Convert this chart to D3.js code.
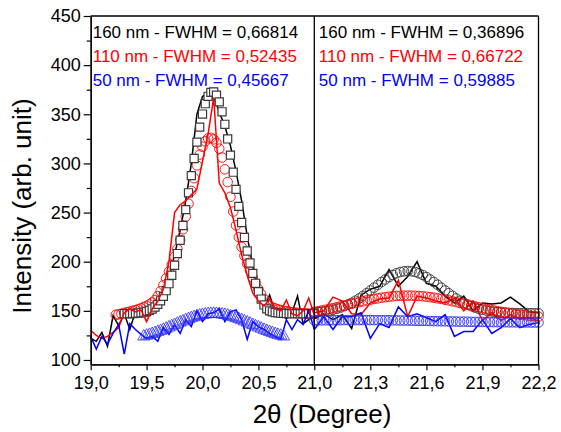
<!DOCTYPE html>
<html>
<head>
<meta charset="utf-8">
<script src="https://cdn.jsdelivr.net/npm/d3@7"></script>
<style>
  html, body { margin: 0; padding: 0; background: #fff; }
  svg { display: block; font-family: "Liberation Sans", Arial, Helvetica, sans-serif; }
</style>
</head>
<body>
<svg id="chart" width="561" height="432"></svg>
<script>
// ---------------- measured intensities (step 0.05 deg) ----------------
const dataStep = 0.05;
const angleLeft  = d3.range(41).map(i => +(19 + i * dataStep).toFixed(2));   // 19.00 .. 21.00
const angleRight = d3.range(25).map(i => +(21 + i * dataStep).toFixed(2));   // 21.00 .. 22.20

const data160Left = [122,119,128,114,145,135,147,131,149,147,
                     150,152,156,168,183,207,232,262,300,350,
                     368,372,368,352,338,318,292,262,226,195,
                     172,154,166,149,147,142,148,165,137,141,146];
const data110Left = [130,125,122,124,128,133,148,152,149,151,
                     139,152,160,172,200,250,258,262,268,274,
                     302,330,367,280,270,255,232,207,186,168,
                     160,155,162,152,150,161,147,145,150,163,146];
const data50Left  = [124,111,124,116,127,136,106,137,131,126,
                     122,124,119,133,126,136,127,141,134,150,
                     139,147,148,152,139,149,151,141,121,139,
                     134,131,127,124,121,141,131,141,136,150,131];

const data160Right = [142,147,141,146,132,166,172,175,192,175,
                      185,200,178,175,165,158,165,150,158,157,
                      158,164,157,149,148];
const data110Right = [148,150,164,160,147,146,158,162,163,181,
                      144,165,163,160,158,163,150,160,140,148,
                      140,146,142,143,140];
const data50Right  = [131,144,131,144,144,148,122,137,133,154,
                      144,147,143,139,146,124,129,129,141,127,
                      133,142,133,136,138];

// ---------------- fitted curves ----------------
const fitStepLeft = 0.025;
const fit160LeftStart = 19.30;
const fit160Left = [147.1,147.1,147.2,147.3,147.4,147.7,148.0,148.6,149.3,150.4,
                    151.9,153.9,156.6,160.2,164.7,170.5,177.6,186.2,196.4,208.3,
                    221.8,236.8,253.0,270.1,287.6,305.0,321.7,336.9,350.2,360.8,
                    368.3,372.3,372.7,369.4,362.6,352.5,339.8,324.9,308.4,291.1,
                    273.6,256.3,239.9,224.7,210.9,198.7,188.1,178.0,169.5,162.0,
                    156.0,152.0,150.0,149.0,148.3,147.9,147.6,147.4,147.3,147.2,
                    147.1,147.1,147.1,147.1,147.1,147.1,147.1,147.1,147.1];
const fit110LeftStart = 19.225;
const fit110Left = [146.0,146.5,147.0,147.8,148.5,149.2,150.0,150.8,151.6,152.6,
                    153.8,155.0,156.5,158.5,161.0,165.0,170.0,176.0,183.0,190.0,
                    197.0,205.0,213.0,222.0,233.0,246.0,259.0,272.0,285.0,298.0,
                    309.0,317.0,322.5,325.5,326.0,324.5,321.0,315.0,306.0,294.0,
                    281.0,266.0,251.0,237.0,225.0,215.0,206.0,198.0,191.0,184.0,
                    178.0,172.0,167.0,162.0,158.0,155.0,153.5,152.5,151.5,150.8,
                    150.2,149.6,149.1,148.6,148.2,147.9,147.7,147.5,147.3,147.2,
                    147.1,147.0];
const fit50LeftStart = 19.475;
const fit50Left = [123.9,124.7,125.5,126.4,127.4,128.5,129.5,130.7,131.9,133.1,
                   134.3,135.6,136.9,138.1,139.3,140.5,141.6,142.6,143.6,144.5,
                   145.2,145.8,146.3,146.7,146.9,147.0,146.9,146.7,146.3,145.8,
                   145.2,144.5,143.6,142.6,141.6,140.5,139.3,138.1,136.9,135.6,
                   134.3,133.1,131.9,130.7,129.5,128.5,127.4,126.4,125.5,124.7,123.9];

const fitStepRight = 0.02;
const fitRightStart = 21.00;
const fit160Right = [148.4,148.7,149.1,149.7,150.3,151.1,152.1,153.3,154.7,156.4,
                     158.2,160.3,162.6,165.2,167.9,170.7,173.6,176.5,179.3,181.9,
                     184.4,186.5,188.2,189.5,190.2,190.5,190.2,189.5,188.2,186.5,
                     184.4,181.9,179.3,176.5,173.6,170.7,167.9,165.2,162.6,160.3,
                     158.2,156.4,154.7,153.3,152.1,151.1,150.3,149.7,149.1,148.7,
                     148.4,148.2,148.0,147.8,147.7,147.7,147.6,147.6,147.6,147.5,147.5];
const fit110Right = [148.9,149.6,150.4,151.1,151.9,152.8,153.6,154.5,155.4,156.3,
                     157.1,158.0,158.9,159.7,160.6,161.3,162.1,162.7,163.4,163.9,
                     164.4,164.8,165.1,165.3,165.4,165.5,165.4,165.3,165.1,164.8,
                     164.4,163.9,163.4,162.7,162.1,161.3,160.6,159.7,158.9,158.0,
                     157.1,156.3,155.4,154.5,153.6,152.8,151.9,151.1,150.4,149.6,
                     148.9,148.3,147.7,147.1,146.5,146.1,145.6,145.2,144.8,144.5,144.1];
const fit50Right  = [140.2,140.3,140.3,140.4,140.4,140.5,140.5,140.5,140.6,140.6,
                     140.6,140.6,140.6,140.6,140.6,140.6,140.5,140.5,140.5,140.4,
                     140.4,140.3,140.3,140.2,140.1,140.1,140.0,139.9,139.8,139.8,
                     139.7,139.6,139.5,139.5,139.4,139.3,139.2,139.2,139.1,139.0,
                     139.0,138.9,138.8,138.8,138.7,138.7,138.6,138.6,138.5,138.5,
                     138.4,138.4,138.3,138.3,138.3,138.2,138.2,138.2,138.1,138.1,138.1];

// ---------------- labels and ticks ----------------
const yTicks = [100,150,200,250,300,350,400,450];
const yMinorTicks = [125,175,225,275,325,375,425];
const xTicksLeft = [19.0,19.5,20.0,20.5,21.0];
const xMinorLeft = [19.25,19.75,20.25,20.75];
const xTicksRight = [21.3,21.6,21.9,22.2];
const xMinorRight = [21.15,21.45,21.75,22.05];
const labelsLeft  = ["160 nm - FWHM = 0,66814", "110 nm - FWHM = 0,52435", "50 nm - FWHM = 0,45667"];
const labelsRight = ["160 nm - FWHM = 0,36896", "110 nm - FWHM = 0,66722", "50 nm - FWHM = 0,59885"];
const seriesColors = ["#000000", "#ff0000", "#0000ff"];
const yTitle = "Intensity (arb. unit)";
const xTitle = "2\u03b8 (Degree)";

// ---------------- layout ----------------
const svg = d3.select("#chart");
const plotLeft = 90.7, plotMid = 314.3, plotRight = 538.5, plotTop = 16, plotBottom = 364.3;

const y  = d3.scaleLinear().domain([95.6, 450]).range([plotBottom, plotTop]);
const xL = d3.scaleLinear().domain([19, 21]).range([plotLeft, plotMid]);
const xR = d3.scaleLinear().domain([21, 22.2]).range([plotMid, plotRight]);

const commaLocale = d3.formatLocale({decimal: ",", thousands: ".", grouping: [3], currency: ["", ""]});
const fmt1 = commaLocale.format(".1f");

const toPoints = (xs, ys) => xs.map((a, i) => [a, ys[i]]);
const fitPoints = (start, step, ys) => ys.map((v, i) => [start + i * step, v]);

const line = sx => d3.line().x(d => sx(d[0])).y(d => y(d[1]));

function drawData(sx, pts, color) {
  svg.append("path")
    .datum(pts)
    .attr("d", line(sx))
    .attr("fill", "none")
    .attr("stroke", color)
    .attr("stroke-width", 1.5)
    .attr("stroke-linejoin", "miter");
}

function drawMarkers(sx, pts, type, size, stroke, fill, sw) {
  const sym = d3.symbol().type(type).size(size)();
  svg.append("g")
    .selectAll("path")
    .data(pts)
    .join("path")
    .attr("d", sym)
    .attr("transform", d => `translate(${sx(d[0])},${y(d[1])})`)
    .attr("fill", fill)
    .attr("stroke", stroke)
    .attr("stroke-width", sw);
}

// ---- left panel (19.0 - 21.0) ----
drawData(xL, toPoints(angleLeft, data160Left), seriesColors[0]);
drawMarkers(xL, fitPoints(fit110LeftStart, fitStepLeft, fit110Left), d3.symbolCircle, 72, seriesColors[1], "none", 0.9);
drawMarkers(xL, fitPoints(fit160LeftStart, fitStepLeft, fit160Left), d3.symbolSquare, 66, "#3a3a3a", "#ffffff", 1.2);
drawData(xL, toPoints(angleLeft, data110Left), seriesColors[1]);
drawData(xL, toPoints(angleLeft, data50Left), seriesColors[2]);
drawMarkers(xL, fitPoints(fit50LeftStart, fitStepLeft, fit50Left), d3.symbolTriangle, 64, "#2a2aff", "none", 0.8);

// ---- right panel (21.0 - 22.2) ----
drawData(xR, toPoints(angleRight, data160Right), seriesColors[0]);
drawData(xR, toPoints(angleRight, data110Right), seriesColors[1]);
drawData(xR, toPoints(angleRight, data50Right), seriesColors[2]);
drawMarkers(xR, fitPoints(fitRightStart, fitStepRight, fit160Right), d3.symbolCircle, 72, "#333333", "none", 0.9);
drawMarkers(xR, fitPoints(fitRightStart, fitStepRight, fit110Right), d3.symbolCircle, 72, seriesColors[1], "none", 0.9);
drawMarkers(xR, fitPoints(fitRightStart, fitStepRight, fit50Right), d3.symbolCircle, 72, "#2a2aff", "none", 0.9);

// ---------------- axes ----------------
function styleAxis(g) {
  g.selectAll("path.domain").attr("stroke", "#000").attr("stroke-width", 1.3);
  g.selectAll(".tick line").attr("stroke", "#000").attr("stroke-width", 1.2);
  g.selectAll(".tick text").attr("fill", "#000").style("font-size", "18px")
    .style("font-family", "'Liberation Sans', Arial, sans-serif");
}

// y axis
svg.append("g").attr("transform", `translate(${plotLeft},0)`)
  .call(d3.axisLeft(y).tickValues(yMinorTicks).tickSize(4).tickSizeOuter(0).tickFormat(""))
  .call(styleAxis);
svg.append("g").attr("transform", `translate(${plotLeft},0)`)
  .call(d3.axisLeft(y).tickValues(yTicks).tickSize(7).tickSizeOuter(0).tickPadding(3).tickFormat(d3.format("d")))
  .call(styleAxis);

// x axes
const bottom = `translate(0,${plotBottom})`;
svg.append("g").attr("transform", bottom)
  .call(d3.axisBottom(xL).tickValues(xMinorLeft).tickSize(3).tickSizeOuter(0).tickFormat(""))
  .call(styleAxis);
svg.append("g").attr("transform", bottom)
  .call(d3.axisBottom(xL).tickValues(xTicksLeft).tickSize(6).tickSizeOuter(0).tickPadding(6).tickFormat(fmt1))
  .call(styleAxis);
svg.append("g").attr("transform", bottom)
  .call(d3.axisBottom(xR).tickValues(xMinorRight).tickSize(3).tickSizeOuter(0).tickFormat(""))
  .call(styleAxis);
svg.append("g").attr("transform", bottom)
  .call(d3.axisBottom(xR).tickValues(xTicksRight).tickSize(6).tickSizeOuter(0).tickPadding(6).tickFormat(fmt1))
  .call(styleAxis);

// frame and panel divider
const frame = svg.append("g").attr("stroke", "#000").attr("stroke-width", 1.3);
frame.append("line").attr("x1", plotLeft).attr("x2", plotRight).attr("y1", plotTop).attr("y2", plotTop);
frame.append("line").attr("x1", plotRight).attr("x2", plotRight).attr("y1", plotTop).attr("y2", plotBottom);
frame.append("line").attr("x1", xL(21)).attr("x2", xL(21)).attr("y1", plotTop).attr("y2", plotBottom);

// ---------------- annotations ----------------
const legendBaselines = [38, 62, 86];
svg.append("g").selectAll("text").data(labelsLeft).join("text")
  .attr("x", plotLeft + 2).attr("y", (d, i) => legendBaselines[i])
  .attr("fill", (d, i) => seriesColors[i])
  .style("font-size", "17px")
  .text(d => d);
svg.append("g").selectAll("text").data(labelsRight).join("text")
  .attr("x", plotMid + 4.5).attr("y", (d, i) => legendBaselines[i])
  .attr("fill", (d, i) => seriesColors[i])
  .style("font-size", "17px")
  .text(d => d);

// axis titles
svg.append("text")
  .attr("transform", "translate(31,206) rotate(-90)")
  .attr("text-anchor", "middle")
  .style("font-size", "26px")
  .text(yTitle);
svg.append("text")
  .attr("x", 322).attr("y", 423)
  .attr("text-anchor", "middle")
  .style("font-size", "26px")
  .text(xTitle);
</script>
</body>
</html>
